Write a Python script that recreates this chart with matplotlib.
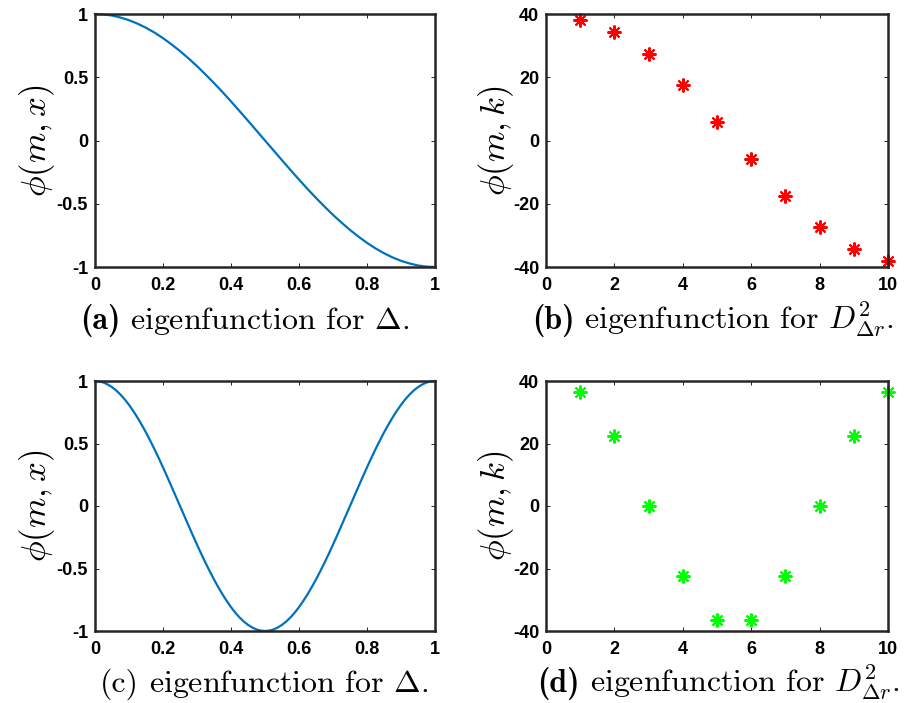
import matplotlib.pyplot as plt

# eigenfunction samples
x_a = [i * 0.025 for i in range(41)]
phi_a = [1.000, 0.997, 0.988, 0.972, 0.951, 0.924, 0.891, 0.853, 0.809, 0.760,
         0.707, 0.649, 0.588, 0.522, 0.454, 0.383, 0.309, 0.233, 0.156, 0.078,
         0.000, -0.078, -0.156, -0.233, -0.309, -0.383, -0.454, -0.522, -0.588, -0.649,
         -0.707, -0.760, -0.809, -0.853, -0.891, -0.924, -0.951, -0.972, -0.988, -0.997,
         -1.000]
x_c = [i * 0.0125 for i in range(81)]
phi_c = [1.000, 0.997, 0.988, 0.972, 0.951, 0.924, 0.891, 0.853, 0.809, 0.760,
         0.707, 0.649, 0.588, 0.522, 0.454, 0.383, 0.309, 0.233, 0.156, 0.078,
         0.000, -0.078, -0.156, -0.233, -0.309, -0.383, -0.454, -0.522, -0.588, -0.649,
         -0.707, -0.760, -0.809, -0.853, -0.891, -0.924, -0.951, -0.972, -0.988, -0.997,
         -1.000, -0.997, -0.988, -0.972, -0.951, -0.924, -0.891, -0.853, -0.809, -0.760,
         -0.707, -0.649, -0.588, -0.522, -0.454, -0.383, -0.309, -0.233, -0.156, -0.078,
         0.000, 0.078, 0.156, 0.233, 0.309, 0.383, 0.454, 0.522, 0.588, 0.649,
         0.707, 0.760, 0.809, 0.853, 0.891, 0.924, 0.951, 0.972, 0.988, 0.997,
         1.000]

# discrete eigenvectors (right panels)
k_vals = [1, 2, 3, 4, 5, 6, 7, 8, 9, 10]
phi_b = [38.2, 34.2, 27.3, 17.5, 6.0, -6.0, -17.5, -27.3, -34.2, -38.2]
phi_d = [36.5, 22.5, 0.0, -22.5, -36.5, -36.5, -22.5, 0.0, 22.5, 36.5]

cap_tags = ["(a)", "(b)", "(c)", "(d)"]
cap_bold = [True, True, False, True]
cap_texts = [r"eigenfunction for $\Delta$.",
             r"eigenfunction for $D^2_{\Delta r}$.",
             r"eigenfunction for $\Delta$.",
             r"eigenfunction for $D^2_{\Delta r}$."]

plt.rcParams["mathtext.fontset"] = "cm"
plt.rcParams["font.family"] = "Liberation Sans"

W, H = 917, 703
fig = plt.figure(figsize=(W / 100, H / 100), dpi=100)


def make_axes(l, t, r, b):
    ax = fig.add_axes([l / W, 1 - b / H, (r - l) / W, (b - t) / H])
    ax.tick_params(direction="in", top=True, right=True, length=3,
                   labelsize=13, width=0.6)
    ax.tick_params(axis="x", pad=7)
    ax.tick_params(axis="y", pad=5)
    for s in ax.spines.values():
        s.set_linewidth(1.8)
        s.set_color("#262626")
    return ax


def style_cont(ax):
    ax.set_xlim(0, 1)
    ax.set_ylim(-1, 1)
    ax.set_xticks([0, 0.2, 0.4, 0.6, 0.8, 1])
    ax.set_xticklabels(["0", "0.2", "0.4", "0.6", "0.8", "1"], fontweight="bold")
    ax.set_yticks([-1, -0.5, 0, 0.5, 1])
    ax.set_yticklabels(["-1", "-0.5", "0", "0.5", "1"], fontweight="bold")
    ax.set_ylabel(r"$\phi(m,x)$", fontsize=25, labelpad=0)


def style_disc(ax):
    ax.set_xlim(0, 10)
    ax.set_ylim(-40, 40)
    ax.set_xticks([0, 2, 4, 6, 8, 10])
    ax.set_xticklabels(["0", "2", "4", "6", "8", "10"], fontweight="bold")
    ax.set_yticks([-40, -20, 0, 20, 40])
    ax.set_yticklabels(["-40", "-20", "0", "20", "40"], fontweight="bold")
    ax.set_ylabel(r"$\phi(m,k)$", fontsize=25, labelpad=-2)


ax_a = make_axes(95, 14, 435, 267)
ax_a.plot(x_a, phi_a, color="#0072BD", lw=1.6, clip_on=False)
style_cont(ax_a)

ax_b = make_axes(546, 14, 888, 267)
ax_b.plot(k_vals, phi_b, ls="none", marker=(8, 2, 0), ms=10, mew=1.5,
          color="#FF0000", clip_on=False)
style_disc(ax_b)

ax_c = make_axes(95, 381, 435, 631)
ax_c.plot(x_c, phi_c, color="#0072BD", lw=1.6, clip_on=False)
style_cont(ax_c)

ax_d = make_axes(546, 381, 888, 631)
ax_d.plot(k_vals, phi_d, ls="none", marker=(8, 2, 0), ms=10, mew=1.5,
          color="#00FF00", clip_on=False)
style_disc(ax_d)

# captions: (tag left edge, baseline) in pixels
cap_pos = [(80, 329), (532, 329), (100, 692), (537, 692)]
renderer = fig.canvas.get_renderer()
for (cx, cy), tag, bold, txt in zip(cap_pos, cap_tags, cap_bold, cap_texts):
    t1 = fig.text(cx / W, 1 - cy / H, tag, ha="left", va="baseline", fontsize=23,
                  family="cmb10" if bold else "cmr10")
    bb = t1.get_window_extent(renderer)
    fig.text((bb.x1 + 10) / W, 1 - cy / H, txt, ha="left", va="baseline",
             fontsize=23, family="cmr10")

fig.savefig("out.png", dpi=100)
